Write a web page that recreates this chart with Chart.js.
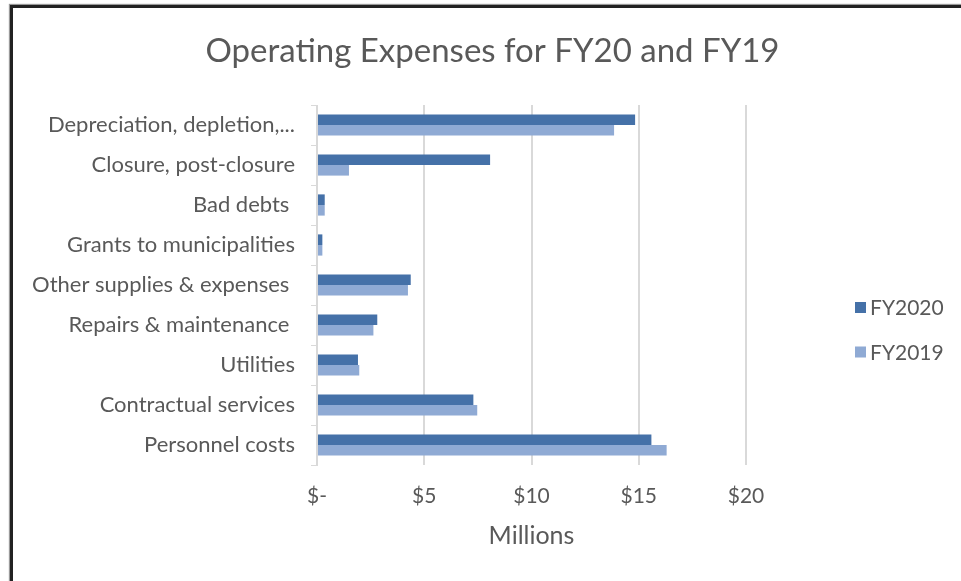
<!DOCTYPE html>
<html>
<head>
<meta charset="utf-8">
<script src="https://cdn.jsdelivr.net/npm/chart.js@4/dist/chart.umd.min.js"></script>
<style>
  html, body { margin: 0; padding: 0; background: #fff; }
  body { width: 961px; height: 581px; position: relative; overflow: hidden; }
  #frame { position: absolute; left: 10px; top: 5px; width: 1000px; height: 700px;
           border-left: 3px solid #222; border-top: 3px solid #222; box-shadow: -1px -1px 1px #999; }
  #wrap { position: absolute; left: 0; top: 0; width: 961px; height: 581px; }
</style>
</head>
<body>
<div id="frame"></div>
<div id="wrap"><canvas id="c"></canvas></div>
<script>
const categories = [
  "Depreciation, depletion,...",
  "Closure, post-closure",
  "Bad debts ",
  "Grants to municipalities",
  "Other supplies & expenses ",
  "Repairs & maintenance ",
  "Utilities",
  "Contractual services",
  "Personnel costs"
];
const fy2020 = [14.83, 8.07, 0.36, 0.25, 4.37, 2.81, 1.91, 7.29, 15.59];
const fy2019 = [13.85, 1.49, 0.36, 0.25, 4.24, 2.63, 1.97, 7.47, 16.30];
const xTicks = [0, 5, 10, 15, 20];
const xTickLabels = ["$-", "$5", "$10", "$15", "$20"];

const FONT = "Lato, 'Open Sans', sans-serif";
const TXT = "#595959";
const GRID = "#d9d9d9";

const legendPlugin = {
  id: 'sideLegend',
  afterDraw(chart) {
    const ctx = chart.ctx;
    ctx.save();
    ctx.font = "21px " + FONT;
    ctx.textBaseline = 'middle';
    ctx.textAlign = 'left';
    chart.data.datasets.forEach((ds, i) => {
      const cy = 307.5 + i * 44.5;
      ctx.fillStyle = ds.backgroundColor;
      ctx.fillRect(855, cy - 5.5, 11, 11);
      ctx.fillStyle = TXT;
      ctx.fillText(ds.label, 870, cy + 1);
    });
    ctx.restore();
  }
};

new Chart(document.getElementById('c'), {
  type: 'bar',
  data: {
    labels: categories,
    datasets: [
      { label: 'FY2020', data: fy2020, backgroundColor: '#4571a8', borderWidth: 0 },
      { label: 'FY2019', data: fy2019, backgroundColor: '#8faad4', borderWidth: 0 }
    ]
  },
  options: {
    indexAxis: 'y',
    responsive: true,
    maintainAspectRatio: false,
    animation: false,
    layout: { padding: { left: 24, right: 0, top: 8, bottom: 10 } },
    categoryPercentage: 0.53,
    barPercentage: 1.0,
    plugins: {
      legend: { display: false },
      tooltip: { enabled: false },
      title: {
        display: true,
        text: 'Operating Expenses for FY20 and FY19',
        color: TXT,
        font: { family: FONT, size: 33, weight: 'normal' },
        padding: { top: 24, bottom: 33.4 }
      }
    },
    scales: {
      x: {
        min: 0, max: 20,
        afterBuildTicks(scale) { scale.ticks = xTicks.map(v => ({ value: v })); },
        afterFit(scale) { scale.height = 106; },
        ticks: {
          color: TXT,
          font: { family: FONT, size: 21 },
          padding: 19,
          maxRotation: 0,
          callback(v) { return xTickLabels[xTicks.indexOf(v)]; }
        },
        grid: { color: GRID, lineWidth: 2, drawTicks: false },
        border: { display: false },
        title: {
          display: true, text: 'Millions', color: TXT,
          font: { family: FONT, size: 25 },
          padding: { top: 0, bottom: 20 }
        }
      },
      y: {
        afterFit(scale) { scale.width = 317 - 24; },
        ticks: {
          color: TXT,
          font: { family: FONT, size: 22 },
          padding: 16
        },
        grid: { color: GRID, lineWidth: 1, drawOnChartArea: false, tickLength: 6, offset: true },
        border: { display: true, color: GRID, width: 1 }
      },
      legendSpace: {
        type: 'linear',
        position: 'right',
        display: true,
        afterFit(scale) { scale.width = 961 - 746; },
        ticks: { display: false },
        grid: { display: false },
        border: { display: false }
      }
    }
  },
  plugins: [legendPlugin]
});
</script>
</body>
</html>
